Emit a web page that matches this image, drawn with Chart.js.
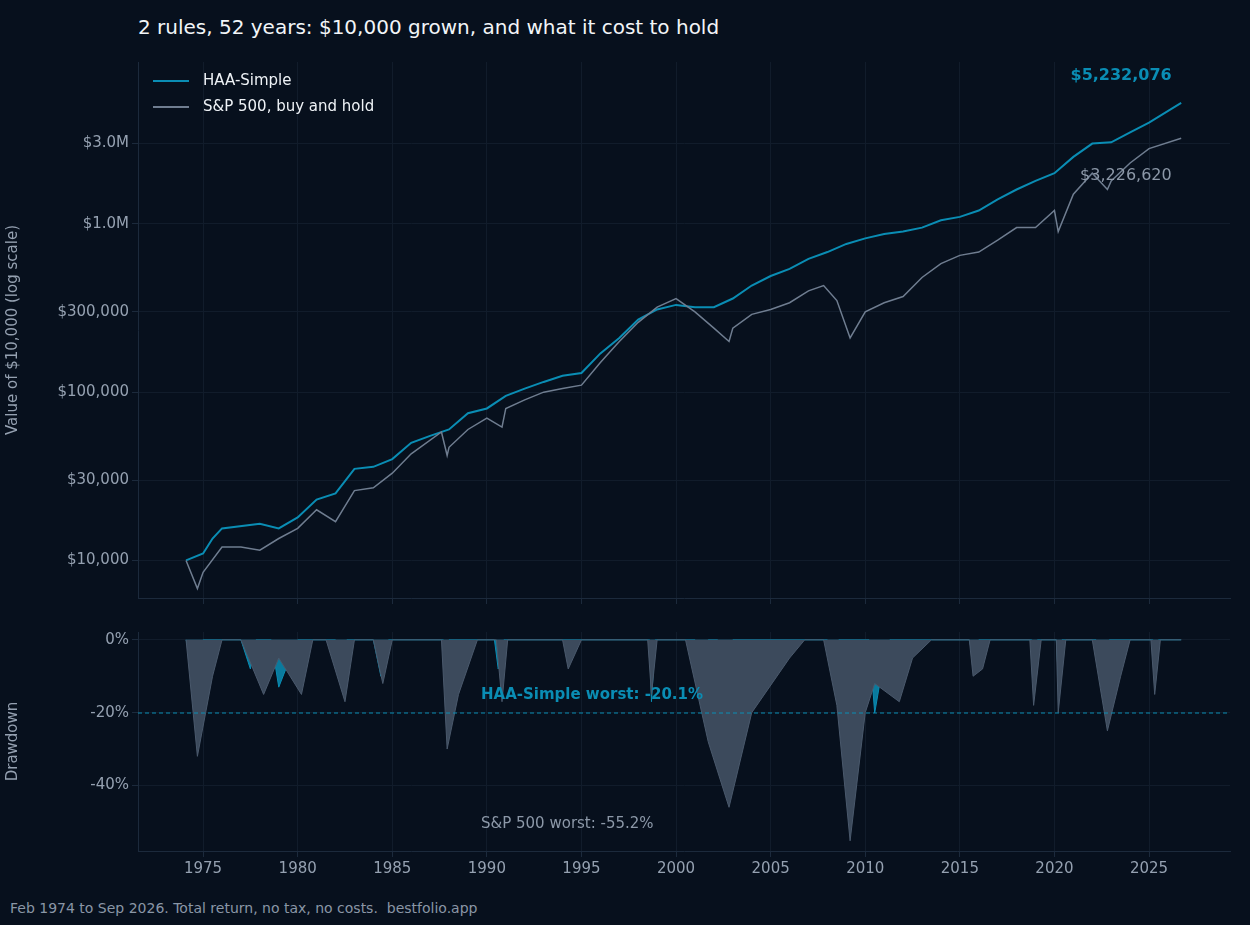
<!DOCTYPE html>
<html><head><meta charset="utf-8">
<script src="https://cdn.jsdelivr.net/npm/chart.js@4/dist/chart.umd.min.js"></script>
<style>
body{margin:0;background:#07101d;width:1250px;height:925px;overflow:hidden;font-family:"DejaVu Sans",sans-serif}
#title{position:absolute;left:138px;top:15px;color:#f2f5f8;font-size:20px}
#foot{position:absolute;left:10px;top:900px;color:#8a96a6;font-size:14px}
.c{position:absolute;left:0;width:1250px}
</style></head><body>
<div id="title">2 rules, 52 years: $10,000 grown, and what it cost to hold</div>
<div class="c" style="top:50px;height:560px"><canvas id="top"></canvas></div>
<div class="c" style="top:620px;height:260px"><canvas id="dd"></canvas></div>
<div id="foot">Feb 1974 to Sep 2026. Total return, no tax, no costs.&nbsp; bestfolio.app</div>
<script>
const haaYears = [1974.1,1975,1975.5,1976,1978,1979,1980,1981,1982,1983,1984,1985,1986,1987,1988,1989,1990,1991,1992,1993,1994,1995,1996,1997,1998,1999,2000,2001,2002,2003,2004,2005,2006,2007,2008,2009,2010,2011,2012,2013,2014,2015,2016,2017,2018,2019,2020,2021,2022,2023,2024,2025,2026.7];
const haaValues = [10000,11000,13500,15500,16500,15500,18000,23000,25000,35000,36000,40000,50000,55000,60000,75000,80000,95000,105000,115000,125000,130000,170000,210000,270000,310000,330000,320000,320000,360000,430000,490000,540000,620000,680000,760000,820000,870000,900000,950000,1050000,1100000,1200000,1400000,1600000,1800000,2000000,2500000,3000000,3050000,3500000,4000000,5232076];
const spYears = [1974.1,1974.7,1975,1976,1977,1978,1979,1980,1981,1982,1983,1984,1985,1986,1987.6,1987.9,1988,1989,1990,1990.8,1991,1992,1993,1994,1995,1996,1997,1998,1999,2000,2001,2002,2002.8,2003,2004,2005,2006,2007,2007.8,2008.5,2009.2,2010,2011,2012,2013,2014,2015,2016,2017,2018,2019,2020,2020.2,2021,2022,2022.8,2023,2024,2025,2026.7];
const spValues = [10000,6800,8500,12000,12000,11500,13500,15500,20000,17000,26000,27000,33000,43000,58000,42000,47000,60000,70000,62000,80000,90000,100000,105000,110000,150000,200000,260000,320000,360000,300000,240000,200000,240000,290000,310000,340000,400000,430000,350000,210000,300000,340000,370000,480000,580000,650000,680000,800000,950000,950000,1200000,900000,1500000,2000000,1600000,1800000,2300000,2800000,3226620];
const spDdYears = [1974.1,1974.7,1975.5,1976,1977,1978.2,1979,1980.2,1980.8,1981.5,1982.5,1983,1984,1984.5,1985,1987.6,1987.9,1988.5,1989.5,1990.5,1990.8,1991.1,1994,1994.3,1995,1998.5,1998.7,1999,2000.5,2001.7,2002.8,2004,2006,2006.8,2007.8,2008.5,2009.2,2010,2010.5,2011.8,2012.5,2013.5,2015.5,2015.7,2016.2,2016.6,2018.7,2018.9,2019.3,2020.1,2020.2,2020.6,2022,2022.8,2023.5,2024,2025.1,2025.3,2025.6,2026.7];
const spDdValues = [0,-32,-10,0,0,-15,-5,-15,0,0,-17,0,0,-12,0,0,-30,-15,0,0,-17,0,0,-8,0,0,-15,0,0,-28,-46,-20,-5,0,0,-18,-55.2,-20,-12,-17,-5,0,0,-10,-8,0,0,-18,0,0,-20,0,0,-25,-10,0,0,-15,0,0];
const haaDdYears = [1974.1,1974.6,1975,1977,1977.5,1977.8,1978.6,1979,1979.6,1980,1982,1982.3,1982.6,1984,1984.4,1984.8,1987.7,1987.8,1988,1990.4,1990.6,1990.9,1998.6,1998.7,1998.9,2001,2001.3,2001.7,2002.2,2002.5,2003,2008,2008.3,2008.6,2010.2,2010.5,2010.9,2011.3,2015.5,2015.7,2016,2018.8,2018.9,2019.1,2020.1,2020.2,2020.4,2022.2,2022.5,2022.9,2025.2,2025.3,2025.5,2026.7];
const haaDdValues = [0,-10,0,0,-8,0,0,-13,-5,0,0,-8,0,0,-10,0,0,-5,0,0,-8,0,0,-17,0,0,-10,0,0,-8,0,0,-5,0,0,-20.1,-8,0,0,-5,0,0,-8,0,0,-10,0,0,-5,0,0,-10,0,0];
const logTicks = [10000,30000,100000,300000,1000000,3000000];
const logLabels = ['$10,000','$30,000','$100,000','$300,000','$1.0M','$3.0M'];
const ddTicks = [0,-20,-40];
const yearTicks = [1975,1980,1985,1990,1995,2000,2005,2010,2015,2020,2025];

const TEAL = '#0a8db4', GREY = '#6f7d90', TXT = '#95a1b1', GRID = '#111c2b';
Chart.defaults.font.family = '"DejaVu Sans", sans-serif';
Chart.defaults.font.size = 15;
Chart.defaults.color = TXT;
const pts = (xs, ys) => xs.map((x, i) => ({x, y: ys[i]}));
const xScale = (labels, h) => ({
  type: 'linear', min: 1971.56, max: 2029.28,
  afterBuildTicks: s => { s.ticks = yearTicks.map(v => ({value: v})); },
  afterFit: s => { s.height = h; },
  ticks: {display: labels, color: TXT, maxRotation: 0, callback: v => v},
  grid: {color: GRID, tickColor: '#1c2a3c', tickLength: 6},
  border: {color: '#1c2a3c'}
});

new Chart(document.getElementById('top'), {
  type: 'line',
  data: {datasets: [
    {data: pts(spYears, spValues), borderColor: GREY, borderWidth: 1.5, pointRadius: 0, tension: 0},
    {data: pts(haaYears, haaValues), borderColor: TEAL, borderWidth: 2, pointRadius: 0, tension: 0}
  ]},
  options: {
    responsive: true, maintainAspectRatio: false, animation: false,
    layout: {padding: {top: 7, right: 20}},
    plugins: {legend: {display: false}, tooltip: {enabled: false}},
    scales: {
      x: xScale(false, 10),
      y: {type: 'logarithmic', min: 5980, max: 9160000,
        afterBuildTicks: s => { s.ticks = logTicks.map(v => ({value: v})); },
        afterFit: s => { s.width = 138; },
        ticks: {color: TXT, callback: v => logLabels[logTicks.indexOf(v)]},
        title: {display: true, text: 'Value of $10,000 (log scale)', color: TXT},
        grid: {color: GRID, tickColor: '#1c2a3c', tickLength: 6},
        border: {color: '#1c2a3c'}}
    }
  },
  plugins: [{id: 'notes', afterDraw(c) {
    const g = c.ctx, x = c.scales.x;
    g.save();
    g.font = 'bold 16px "DejaVu Sans"'; g.fillStyle = TEAL; g.textAlign = 'right'; g.textBaseline = 'middle';
    g.fillText('$5,232,076', x.getPixelForValue(2026.2), 26);
    g.font = '16px "DejaVu Sans"'; g.fillStyle = '#8c98a8';
    g.fillText('$3,226,620', x.getPixelForValue(2026.2), 126);
    g.textAlign = 'left'; g.font = '15px "DejaVu Sans"'; g.fillStyle = '#eef2f6';
    [[TEAL, 'HAA-Simple', 31], [GREY, 'S&P 500, buy and hold', 57]].forEach(([col, t, yy]) => {
      g.strokeStyle = col; g.lineWidth = 2; g.beginPath(); g.moveTo(153, yy); g.lineTo(189, yy); g.stroke();
      g.fillText(t, 203, yy);
    });
    g.restore();
  }}]
});

new Chart(document.getElementById('dd'), {
  type: 'line',
  data: {datasets: [
    {data: pts(spDdYears, spDdValues), borderColor: '#4a596c', borderWidth: 1, backgroundColor: '#3c4a5c', fill: 'origin', pointRadius: 0, tension: 0},
    {data: pts(haaDdYears, haaDdValues), borderColor: TEAL, borderWidth: 1, backgroundColor: 'rgba(10,141,180,0.85)', fill: 'origin', pointRadius: 0, tension: 0}
  ]},
  options: {
    responsive: true, maintainAspectRatio: false, animation: false,
    layout: {padding: {top: 7, right: 20}},
    plugins: {legend: {display: false}, tooltip: {enabled: false}},
    scales: {
      x: xScale(true, 29),
      y: {min: -58, max: 2.15,
        afterBuildTicks: s => { s.ticks = ddTicks.map(v => ({value: v})); },
        afterFit: s => { s.width = 138; },
        ticks: {color: TXT, callback: v => v + '%'},
        title: {display: true, text: 'Drawdown', color: TXT},
        grid: {color: GRID, tickColor: '#1c2a3c', tickLength: 6},
        border: {color: '#1c2a3c'}}
    }
  },
  plugins: [{id: 'dd', afterDatasetsDraw(c) {
    const g = c.ctx, y = c.scales.y, a = c.chartArea;
    g.save();
    const yy = y.getPixelForValue(-20.1);
    g.strokeStyle = TEAL; g.lineWidth = 1; g.setLineDash([4, 3]);
    g.beginPath(); g.moveTo(a.left, yy); g.lineTo(a.right, yy); g.stroke();
    g.setLineDash([]); g.textBaseline = 'middle';
    g.font = 'bold 15px "DejaVu Sans"'; g.fillStyle = TEAL;
    g.fillText('HAA-Simple worst: -20.1%', 481, 75);
    g.font = '15px "DejaVu Sans"'; g.fillStyle = '#8c98a8';
    g.fillText('S&P 500 worst: -55.2%', 481, 204);
    g.restore();
  }}]
});
</script></body></html>
